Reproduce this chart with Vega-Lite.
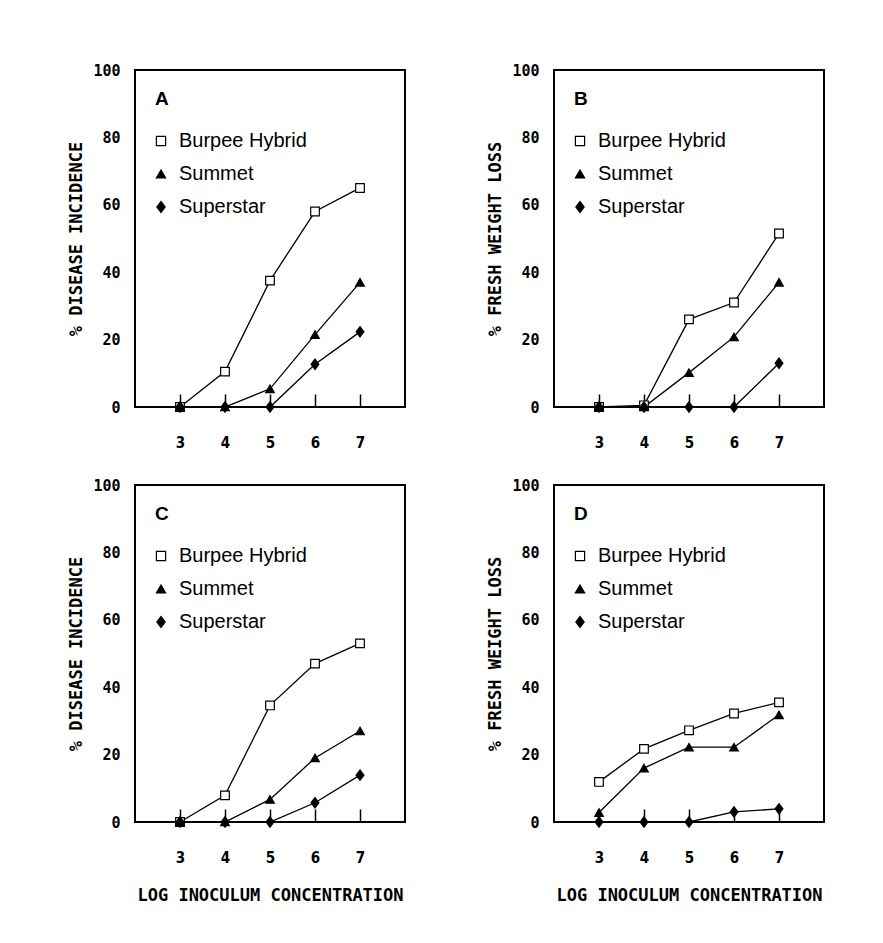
{
  "$schema": "https://vega.github.io/schema/vega-lite/v6.json",
  "background": "white",
  "padding": {"left": 66, "top": 62, "right": 10, "bottom": 10},
  "datasets": {
    "pts": [
      {"panel": "A", "series": "Burpee Hybrid", "conc": 3, "value": 0},
      {"panel": "A", "series": "Burpee Hybrid", "conc": 4, "value": 10.5},
      {"panel": "A", "series": "Burpee Hybrid", "conc": 5, "value": 37.5},
      {"panel": "A", "series": "Burpee Hybrid", "conc": 6, "value": 58},
      {"panel": "A", "series": "Burpee Hybrid", "conc": 7, "value": 65},
      {"panel": "A", "series": "Summet", "conc": 3, "value": 0},
      {"panel": "A", "series": "Summet", "conc": 4, "value": 0},
      {"panel": "A", "series": "Summet", "conc": 5, "value": 5.4},
      {"panel": "A", "series": "Summet", "conc": 6, "value": 21.5},
      {"panel": "A", "series": "Summet", "conc": 7, "value": 37},
      {"panel": "A", "series": "Superstar", "conc": 3, "value": 0},
      {"panel": "A", "series": "Superstar", "conc": 4, "value": 0},
      {"panel": "A", "series": "Superstar", "conc": 5, "value": 0},
      {"panel": "A", "series": "Superstar", "conc": 6, "value": 12.7},
      {"panel": "A", "series": "Superstar", "conc": 7, "value": 22.3},

      {"panel": "B", "series": "Burpee Hybrid", "conc": 3, "value": 0},
      {"panel": "B", "series": "Burpee Hybrid", "conc": 4, "value": 0.5},
      {"panel": "B", "series": "Burpee Hybrid", "conc": 5, "value": 26},
      {"panel": "B", "series": "Burpee Hybrid", "conc": 6, "value": 31},
      {"panel": "B", "series": "Burpee Hybrid", "conc": 7, "value": 51.5},
      {"panel": "B", "series": "Summet", "conc": 3, "value": 0},
      {"panel": "B", "series": "Summet", "conc": 4, "value": 0},
      {"panel": "B", "series": "Summet", "conc": 5, "value": 10.2},
      {"panel": "B", "series": "Summet", "conc": 6, "value": 20.8},
      {"panel": "B", "series": "Summet", "conc": 7, "value": 37},
      {"panel": "B", "series": "Superstar", "conc": 3, "value": 0},
      {"panel": "B", "series": "Superstar", "conc": 4, "value": 0},
      {"panel": "B", "series": "Superstar", "conc": 5, "value": 0},
      {"panel": "B", "series": "Superstar", "conc": 6, "value": 0},
      {"panel": "B", "series": "Superstar", "conc": 7, "value": 13},

      {"panel": "C", "series": "Burpee Hybrid", "conc": 3, "value": 0},
      {"panel": "C", "series": "Burpee Hybrid", "conc": 4, "value": 7.9},
      {"panel": "C", "series": "Burpee Hybrid", "conc": 5, "value": 34.6},
      {"panel": "C", "series": "Burpee Hybrid", "conc": 6, "value": 47},
      {"panel": "C", "series": "Burpee Hybrid", "conc": 7, "value": 53},
      {"panel": "C", "series": "Summet", "conc": 3, "value": 0},
      {"panel": "C", "series": "Summet", "conc": 4, "value": 0},
      {"panel": "C", "series": "Summet", "conc": 5, "value": 6.7},
      {"panel": "C", "series": "Summet", "conc": 6, "value": 19},
      {"panel": "C", "series": "Summet", "conc": 7, "value": 27},
      {"panel": "C", "series": "Superstar", "conc": 3, "value": 0},
      {"panel": "C", "series": "Superstar", "conc": 4, "value": 0},
      {"panel": "C", "series": "Superstar", "conc": 5, "value": 0},
      {"panel": "C", "series": "Superstar", "conc": 6, "value": 5.7},
      {"panel": "C", "series": "Superstar", "conc": 7, "value": 13.9},

      {"panel": "D", "series": "Burpee Hybrid", "conc": 3, "value": 11.9},
      {"panel": "D", "series": "Burpee Hybrid", "conc": 4, "value": 21.7},
      {"panel": "D", "series": "Burpee Hybrid", "conc": 5, "value": 27.2},
      {"panel": "D", "series": "Burpee Hybrid", "conc": 6, "value": 32.2},
      {"panel": "D", "series": "Burpee Hybrid", "conc": 7, "value": 35.5},
      {"panel": "D", "series": "Summet", "conc": 3, "value": 2.8},
      {"panel": "D", "series": "Summet", "conc": 4, "value": 16},
      {"panel": "D", "series": "Summet", "conc": 5, "value": 22.2},
      {"panel": "D", "series": "Summet", "conc": 6, "value": 22.2},
      {"panel": "D", "series": "Summet", "conc": 7, "value": 31.8},
      {"panel": "D", "series": "Superstar", "conc": 3, "value": 0},
      {"panel": "D", "series": "Superstar", "conc": 4, "value": 0},
      {"panel": "D", "series": "Superstar", "conc": 5, "value": 0},
      {"panel": "D", "series": "Superstar", "conc": 6, "value": 3},
      {"panel": "D", "series": "Superstar", "conc": 7, "value": 3.9}
    ]
  },
  "data": {"name": "pts"},
  "columns": 2,
  "spacing": {"column": 79, "row": 26},
  "resolve": {
    "scale": {"shape": "independent", "fill": "independent", "stroke": "independent"},
    "legend": {"shape": "independent", "fill": "independent", "stroke": "independent"}
  },
  "concat": [
    {
      "width": 270, "height": 337,
      "transform": [{"filter": "datum.panel === 'A'"}],
      "encoding": {
        "x": {"field": "conc", "type": "quantitative", "scale": {"domain": [2, 8], "nice": false}, "axis": {"values": [3, 4, 5, 6, 7], "title": null}},
        "y": {"field": "value", "type": "quantitative", "scale": {"domain": [0, 100], "nice": false}, "axis": {"values": [0, 20, 40, 60, 80, 100], "title": "% DISEASE INCIDENCE"}}
      },
      "layer": [
        {"mark": {"type": "line", "color": "black", "strokeWidth": 1.3}, "encoding": {"detail": {"field": "series"}}},
        {"mark": {"type": "point", "filled": true, "strokeWidth": 1.2, "size": 75, "opacity": 1},
         "encoding": {
           "shape": {"field": "series", "type": "nominal", "scale": {"domain": ["Burpee Hybrid", "Summet", "Superstar"], "range": ["square", "triangle-up", "M0,-1.2L0.9,0L0,1.2L-0.9,0Z"]}, "legend": {"title": "A"}},
           "fill": {"field": "series", "type": "nominal", "scale": {"domain": ["Burpee Hybrid", "Summet", "Superstar"], "range": ["white", "black", "black"]}, "legend": {"title": "A"}},
           "stroke": {"field": "series", "type": "nominal", "scale": {"domain": ["Burpee Hybrid", "Summet", "Superstar"], "range": ["black", "black", "black"]}, "legend": {"title": "A"}}
         }}
      ]
    },
    {
      "width": 270, "height": 337,
      "transform": [{"filter": "datum.panel === 'B'"}],
      "encoding": {
        "x": {"field": "conc", "type": "quantitative", "scale": {"domain": [2, 8], "nice": false}, "axis": {"values": [3, 4, 5, 6, 7], "title": null}},
        "y": {"field": "value", "type": "quantitative", "scale": {"domain": [0, 100], "nice": false}, "axis": {"values": [0, 20, 40, 60, 80, 100], "title": "% FRESH WEIGHT LOSS"}}
      },
      "layer": [
        {"mark": {"type": "line", "color": "black", "strokeWidth": 1.3}, "encoding": {"detail": {"field": "series"}}},
        {"mark": {"type": "point", "filled": true, "strokeWidth": 1.2, "size": 75, "opacity": 1},
         "encoding": {
           "shape": {"field": "series", "type": "nominal", "scale": {"domain": ["Burpee Hybrid", "Summet", "Superstar"], "range": ["square", "triangle-up", "M0,-1.2L0.9,0L0,1.2L-0.9,0Z"]}, "legend": {"title": "B"}},
           "fill": {"field": "series", "type": "nominal", "scale": {"domain": ["Burpee Hybrid", "Summet", "Superstar"], "range": ["white", "black", "black"]}, "legend": {"title": "B"}},
           "stroke": {"field": "series", "type": "nominal", "scale": {"domain": ["Burpee Hybrid", "Summet", "Superstar"], "range": ["black", "black", "black"]}, "legend": {"title": "B"}}
         }}
      ]
    },
    {
      "width": 270, "height": 337,
      "transform": [{"filter": "datum.panel === 'C'"}],
      "encoding": {
        "x": {"field": "conc", "type": "quantitative", "scale": {"domain": [2, 8], "nice": false}, "axis": {"values": [3, 4, 5, 6, 7], "title": "LOG INOCULUM CONCENTRATION"}},
        "y": {"field": "value", "type": "quantitative", "scale": {"domain": [0, 100], "nice": false}, "axis": {"values": [0, 20, 40, 60, 80, 100], "title": "% DISEASE INCIDENCE"}}
      },
      "layer": [
        {"mark": {"type": "line", "color": "black", "strokeWidth": 1.3}, "encoding": {"detail": {"field": "series"}}},
        {"mark": {"type": "point", "filled": true, "strokeWidth": 1.2, "size": 75, "opacity": 1},
         "encoding": {
           "shape": {"field": "series", "type": "nominal", "scale": {"domain": ["Burpee Hybrid", "Summet", "Superstar"], "range": ["square", "triangle-up", "M0,-1.2L0.9,0L0,1.2L-0.9,0Z"]}, "legend": {"title": "C"}},
           "fill": {"field": "series", "type": "nominal", "scale": {"domain": ["Burpee Hybrid", "Summet", "Superstar"], "range": ["white", "black", "black"]}, "legend": {"title": "C"}},
           "stroke": {"field": "series", "type": "nominal", "scale": {"domain": ["Burpee Hybrid", "Summet", "Superstar"], "range": ["black", "black", "black"]}, "legend": {"title": "C"}}
         }}
      ]
    },
    {
      "width": 270, "height": 337,
      "transform": [{"filter": "datum.panel === 'D'"}],
      "encoding": {
        "x": {"field": "conc", "type": "quantitative", "scale": {"domain": [2, 8], "nice": false}, "axis": {"values": [3, 4, 5, 6, 7], "title": "LOG INOCULUM CONCENTRATION"}},
        "y": {"field": "value", "type": "quantitative", "scale": {"domain": [0, 100], "nice": false}, "axis": {"values": [0, 20, 40, 60, 80, 100], "title": "% FRESH WEIGHT LOSS"}}
      },
      "layer": [
        {"mark": {"type": "line", "color": "black", "strokeWidth": 1.3}, "encoding": {"detail": {"field": "series"}}},
        {"mark": {"type": "point", "filled": true, "strokeWidth": 1.2, "size": 75, "opacity": 1},
         "encoding": {
           "shape": {"field": "series", "type": "nominal", "scale": {"domain": ["Burpee Hybrid", "Summet", "Superstar"], "range": ["square", "triangle-up", "M0,-1.2L0.9,0L0,1.2L-0.9,0Z"]}, "legend": {"title": "D"}},
           "fill": {"field": "series", "type": "nominal", "scale": {"domain": ["Burpee Hybrid", "Summet", "Superstar"], "range": ["white", "black", "black"]}, "legend": {"title": "D"}},
           "stroke": {"field": "series", "type": "nominal", "scale": {"domain": ["Burpee Hybrid", "Summet", "Superstar"], "range": ["black", "black", "black"]}, "legend": {"title": "D"}}
         }}
      ]
    }
  ],
  "config": {
    "view": {"stroke": "black", "strokeWidth": 2},
    "axis": {"grid": false, "domain": false, "labelColor": "black", "titleColor": "black"},
    "axisX": {
      "tickSize": -13, "tickColor": "black", "tickWidth": 1.5,
      "labelFont": "Liberation Sans Narrow, DejaVu Sans Condensed, sans-serif", "labelFontSize": 15, "labelFontWeight": "bold", "labelPadding": 41,
      "titleFont": "DejaVu Sans Mono", "titleFontSize": 17, "titleFontWeight": "bold", "titlePadding": 22
    },
    "axisY": {
      "ticks": false,
      "labelFont": "DejaVu Sans Mono", "labelFontSize": 15, "labelFontWeight": "bold", "labelPadding": 15,
      "titleFont": "DejaVu Sans Mono", "titleFontSize": 17, "titleFontWeight": "bold", "titlePadding": 7
    },
    "legend": {
      "orient": "top-left", "offset": 20, "padding": 0,
      "titleFont": "Liberation Sans", "titleFontSize": 19, "titleFontWeight": "bold", "titleColor": "black", "titlePadding": 22,
      "labelFont": "Liberation Sans", "labelFontSize": 20, "labelColor": "black", "labelOffset": 8,
      "rowPadding": 13, "symbolOffset": -4, "symbolSize": 85,
      "symbolStrokeWidth": 1.2
    }
  }
}
